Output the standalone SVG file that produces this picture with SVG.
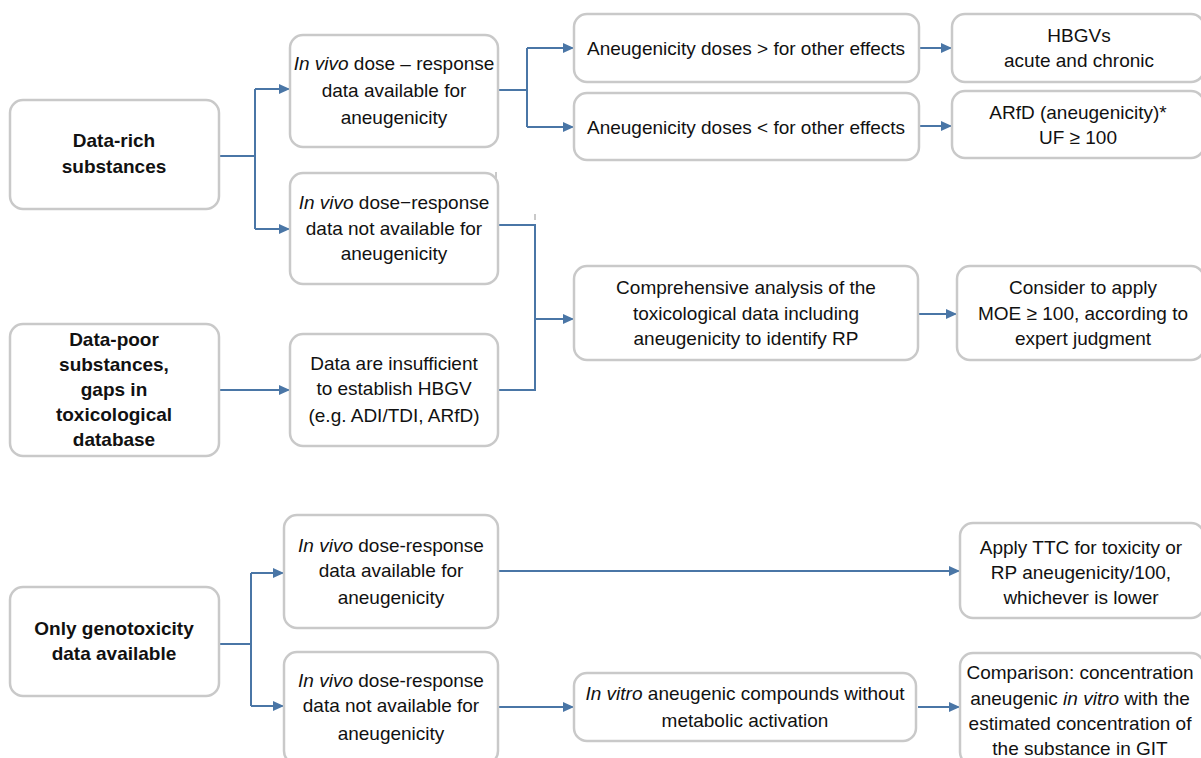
<svg xmlns="http://www.w3.org/2000/svg" width="1201" height="758" viewBox="0 0 1201 758">
<style>
.box{fill:#fff;stroke:#c9c9c9;stroke-width:2.5}
.t{font-family:"Liberation Sans",Arial,sans-serif;font-size:19px;fill:#111;text-anchor:middle}
.b{font-weight:bold}
.i{font-style:italic}
.c{fill:none;stroke:#4a76a6;stroke-width:2}
.a{fill:none;stroke:#4a76a6;stroke-width:2;marker-end:url(#ah)}
.art{stroke:#c9c9c9;stroke-width:2}
</style>
<defs>
<marker id="ah" markerUnits="userSpaceOnUse" markerWidth="11" markerHeight="10" refX="11" refY="5" orient="auto">
<path d="M0,0 L11,5 L0,10 z" fill="#4a76a6"/>
</marker>
</defs>
<rect width="1201" height="758" fill="#fff"/>

<g id="connectors">
<path class="c" d="M219,156 H255 M255,89 V229"/>
<path class="a" d="M255,89 H290"/>
<path class="a" d="M255,229 H290"/>
<path class="c" d="M498,90 H527 M527,48 V127"/>
<path class="a" d="M527,48 H574"/>
<path class="a" d="M527,127 H574"/>
<path class="a" d="M919,48 H952"/>
<path class="a" d="M919,126 H952"/>
<path class="c" d="M498,225 H535 V391 M499,390 H535"/>
<path class="a" d="M535,319 H574"/>
<path class="a" d="M219,390 H290"/>
<path class="a" d="M919,314 H957"/>
<path class="c" d="M219,644 H251 M251,573 V706"/>
<path class="a" d="M251,573 H284"/>
<path class="a" d="M251,706 H284"/>
<path class="a" d="M498,571 H960"/>
<path class="a" d="M498,707 H574"/>
<path class="a" d="M918,707 H960"/>
<path class="art" d="M496,172 V178 M535,214 V220"/>
</g>

<g id="n-datarich">
<rect class="box" x="10" y="100" width="209" height="109" rx="13"/>
<text class="t b" x="114" y="147">Data-rich</text>
<text class="t b" x="114" y="173">substances</text>
</g>
<g id="n-invivo1">
<rect class="box" x="290" y="35" width="208" height="112" rx="13"/>
<text class="t" x="394" y="70"><tspan class="i">In vivo</tspan> dose – response</text>
<text class="t" x="394" y="97">data available for</text>
<text class="t" x="394" y="124">aneugenicity</text>
</g>
<g id="n-greater">
<rect class="box" x="574" y="14" width="345" height="68" rx="13"/>
<text class="t" x="746" y="55">Aneugenicity doses &gt; for other effects</text>
</g>
<g id="n-less">
<rect class="box" x="574" y="93" width="345" height="67" rx="13"/>
<text class="t" x="746" y="134">Aneugenicity doses &lt; for other effects</text>
</g>
<g id="n-hbgv">
<rect class="box" x="952" y="14" width="252" height="68" rx="13"/>
<text class="t" x="1079" y="42">HBGVs</text>
<text class="t" x="1079" y="67">acute and chronic</text>
</g>
<g id="n-arfd">
<rect class="box" x="952" y="91" width="252" height="67" rx="13"/>
<text class="t" x="1078" y="119">ARfD (aneugenicity)*</text>
<text class="t" x="1078" y="144">UF ≥ 100</text>
</g>
<g id="n-invivo2">
<rect class="box" x="290" y="173" width="208" height="111" rx="13"/>
<text class="t" x="394" y="209"><tspan class="i">In vivo</tspan> dose−response</text>
<text class="t" x="394" y="235">data not available for</text>
<text class="t" x="394" y="260">aneugenicity</text>
</g>
<g id="n-datapoor">
<rect class="box" x="10" y="324" width="209" height="132" rx="13"/>
<text class="t b" x="114" y="346">Data-poor</text>
<text class="t b" x="114" y="371">substances,</text>
<text class="t b" x="114" y="396">gaps in</text>
<text class="t b" x="114" y="421">toxicological</text>
<text class="t b" x="114" y="446">database</text>
</g>
<g id="n-insufficient">
<rect class="box" x="290" y="334" width="208" height="112" rx="13"/>
<text class="t" x="394" y="370">Data are insufficient</text>
<text class="t" x="394" y="395">to establish HBGV</text>
<text class="t" x="394" y="422">(e.g. ADI/TDI, ARfD)</text>
</g>
<g id="n-comprehensive">
<rect class="box" x="574" y="266" width="344" height="94" rx="13"/>
<text class="t" x="746" y="294">Comprehensive analysis of the</text>
<text class="t" x="746" y="320">toxicological data including</text>
<text class="t" x="746" y="345">aneugenicity to identify RP</text>
</g>
<g id="n-consider">
<rect class="box" x="957" y="266" width="247" height="94" rx="13"/>
<text class="t" x="1083" y="294">Consider to apply</text>
<text class="t" x="1083" y="320">MOE ≥ 100, according to</text>
<text class="t" x="1083" y="345">expert judgment</text>
</g>
<g id="n-onlygeno">
<rect class="box" x="10" y="587" width="209" height="109" rx="13"/>
<text class="t b" x="114" y="635">Only genotoxicity</text>
<text class="t b" x="114" y="660">data available</text>
</g>
<g id="n-invivo3">
<rect class="box" x="284" y="515" width="214" height="113" rx="13"/>
<text class="t" x="391" y="552"><tspan class="i">In vivo</tspan> dose-response</text>
<text class="t" x="391" y="577">data available for</text>
<text class="t" x="391" y="604">aneugenicity</text>
</g>
<g id="n-invivo4">
<rect class="box" x="284" y="652" width="214" height="112" rx="13"/>
<text class="t" x="391" y="687"><tspan class="i">In vivo</tspan> dose-response</text>
<text class="t" x="391" y="712">data not available for</text>
<text class="t" x="391" y="740">aneugenicity</text>
</g>
<g id="n-invitro">
<rect class="box" x="574" y="673" width="342" height="68" rx="13"/>
<text class="t" x="745" y="700"><tspan class="i">In vitro</tspan> aneugenic compounds without</text>
<text class="t" x="745" y="727">metabolic activation</text>
</g>
<g id="n-ttc">
<rect class="box" x="960" y="523" width="244" height="95" rx="13"/>
<text class="t" x="1081" y="554">Apply TTC for toxicity or</text>
<text class="t" x="1081" y="579">RP aneugenicity/100,</text>
<text class="t" x="1081" y="604">whichever is lower</text>
</g>
<g id="n-comparison">
<rect class="box" x="960" y="653" width="244" height="112" rx="13"/>
<text class="t" x="1080" y="679">Comparison: concentration</text>
<text class="t" x="1080" y="705">aneugenic <tspan class="i">in vitro</tspan> with the</text>
<text class="t" x="1080" y="730">estimated concentration of</text>
<text class="t" x="1080" y="755">the substance in GIT</text>
</g>
</svg>
